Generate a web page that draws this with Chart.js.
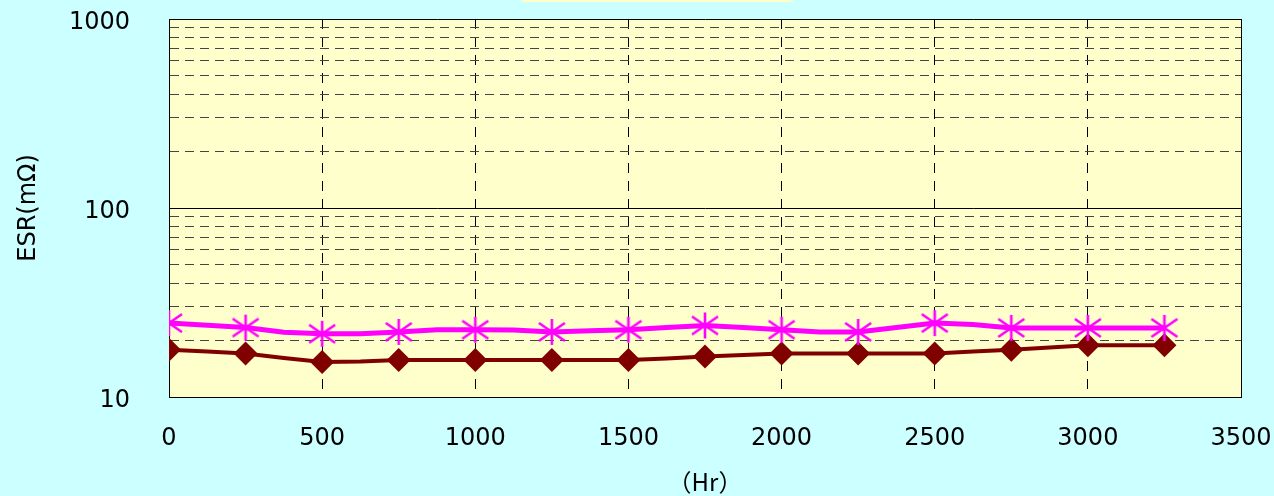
<!DOCTYPE html>
<html>
<head>
<meta charset="utf-8">
<script src="https://cdn.jsdelivr.net/npm/chart.js@4"></script>
<style>
  html, body { margin: 0; padding: 0; background: #ccffff; }
  #wrap { position: relative; width: 1274px; height: 496px; }
  #strip { position: absolute; left: 522px; top: 0; width: 271px; height: 2px; background: #ffffcc; }
</style>
</head>
<body>
<div id="wrap">
  <canvas id="myChart" width="1274" height="496"></canvas>
  <div id="strip"></div>
</div>
<script>
// hours of test (markers every 250 h)
const hours = [0, 125, 250, 375, 500, 625, 750, 875, 1000, 1125, 1250, 1375, 1500, 1625,
               1750, 1875, 2000, 2125, 2250, 2375, 2500, 2625, 2750, 2875, 3000, 3125, 3250];
const markerHours = [0, 250, 500, 750, 1000, 1250, 1500, 1750, 2000, 2250, 2500, 2750, 3000, 3250];

// ESR (mOhm)
const esrHigh = [24.6, 24.0, 23.3, 22.0, 21.6, 21.6, 22.1, 22.7, 22.7, 22.6, 22.1, 22.4, 22.7, 23.3,
                 23.9, 23.3, 22.7, 22.1, 22.1, 23.3, 24.6, 24.2, 23.2, 23.2, 23.2, 23.2, 23.2];
const esrLow  = [17.8, 17.4, 17.0, 16.1, 15.3, 15.4, 15.7, 15.7, 15.7, 15.7, 15.7, 15.7, 15.7, 16.0,
                 16.4, 16.7, 17.0, 17.0, 17.0, 17.0, 17.0, 17.4, 17.8, 18.3, 18.8, 18.8, 18.8];

const yTicks = [10, 20, 30, 40, 50, 60, 70, 80, 90, 100, 200, 300, 400, 500, 600, 700, 800, 900, 1000];
const yLabels = [10, 100, 1000];
const xTicks = [0, 500, 1000, 1500, 2000, 2500, 3000, 3500];

const tickFont = { family: "'DejaVu Sans', 'Noto Sans CJK JP'", size: 24 };
const titleFont = { family: "'Noto Sans CJK JP', 'DejaVu Sans'", size: 24 };

// asterisk marker like the original
function makeStar() {
    const c = document.createElement('canvas');
    c.width = 30; c.height = 28;
    const g = c.getContext('2d');
    g.strokeStyle = '#ff00ff';
    g.lineWidth = 2.6;
    g.beginPath();
    g.moveTo(15, 1); g.lineTo(15, 27);
    g.moveTo(2, 5); g.lineTo(28, 23);
    g.moveTo(2, 23); g.lineTo(28, 5);
    g.stroke();
    return c;
}
const starImg = makeStar();

function toPoints(vals) {
    return hours.map((h, i) => ({ x: h, y: vals[i] }));
}
function isMarker(ctx) {
    return markerHours.includes(hours[ctx.dataIndex]);
}

const plotBg = {
    id: 'plotBg',
    beforeDraw(chart) {
        const { ctx, chartArea: a } = chart;
        ctx.save();
        ctx.fillStyle = '#ffffcc';
        ctx.fillRect(a.left, a.top, a.right - a.left, a.bottom - a.top);
        ctx.restore();
    }
};

function noPad(s) {
    s.paddingTop = 0; s.paddingBottom = 0; s.paddingLeft = 0; s.paddingRight = 0;
}

const ctx = document.getElementById('myChart').getContext('2d');
const myChart = new Chart(ctx, {
    type: 'line',
    data: {
        datasets: [{
            data: toPoints(esrHigh),
            borderColor: '#ff00ff',
            borderWidth: 5,
            pointStyle: starImg,
            pointRadius: c => isMarker(c) ? 14 : 0,
            tension: 0
        }, {
            data: toPoints(esrLow),
            borderColor: '#800000',
            backgroundColor: '#800000',
            borderWidth: 4,
            pointStyle: 'rectRot',
            pointRadius: c => isMarker(c) ? 12 : 0,
            pointBorderWidth: 0,
            tension: 0
        }]
    },
    options: {
        responsive: false,
        animation: false,
        layout: { padding: { left: 0, right: 33, top: 17, bottom: 0 } },
        plugins: { legend: { display: false }, tooltip: { enabled: false } },
        scales: {
            x: {
                type: 'linear',
                min: 0,
                max: 3500,
                afterBuildTicks: s => { s.ticks = xTicks.map(v => ({ value: v })); },
                afterFit: s => { s.height = 99; noPad(s); },
                ticks: {
                    font: tickFont, color: '#000', padding: 27, maxRotation: 0, autoSkip: false,
                    callback: v => String(v)
                },
                grid: {
                    drawTicks: false,
                    color: '#000',
                    lineWidth: 1
                },
                border: {
                    color: '#000',
                    dash: c => (c.tick && c.tick.value !== 0 && c.tick.value !== 3500) ? [10, 8] : []
                },
                title: {
                    display: true,
                    text: '（Hr）',
                    font: titleFont,
                    color: '#000',
                    padding: { top: 0, bottom: 0 }
                }
            },
            y: {
                type: 'logarithmic',
                min: 10,
                max: 1000,
                afterBuildTicks: s => { s.ticks = yTicks.map(v => ({ value: v })); },
                afterFit: s => { s.width = 169; noPad(s); },
                ticks: {
                    font: tickFont,
                    color: '#000',
                    padding: 39,
                    labelOffset: 4,
                    autoSkip: false,
                    callback: v => yLabels.includes(v) ? String(v) : ''
                },
                grid: {
                    drawTicks: false,
                    color: c => yLabels.includes(c.tick.value) ? '#000' : '#444',
                    lineWidth: 1
                },
                border: {
                    color: '#000',
                    dash: c => (c.tick && !yLabels.includes(c.tick.value)) ? [9, 6] : []
                },
                title: {
                    display: true,
                    text: 'ESR(mΩ)',
                    font: tickFont,
                    color: '#000',
                    padding: { top: 14, bottom: 0 }
                }
            }
        }
    },
    plugins: [plotBg]
});
</script>
</body>
</html>
